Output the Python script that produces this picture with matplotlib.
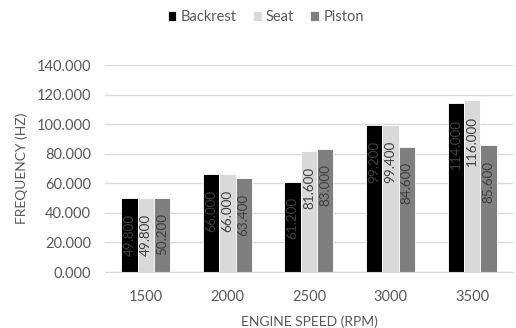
import matplotlib.pyplot as plt
import numpy as np

plt.rcParams['font.family'] = ['Lato', 'DejaVu Sans']

speeds = ["1500", "2000", "2500", "3000", "3500"]
backrest = [49.8, 66.0, 61.2, 99.2, 114.0]
seat = [49.8, 66.0, 81.6, 99.4, 116.0]
piston = [50.2, 63.4, 83.0, 84.6, 85.6]

series = [("Backrest", backrest, "#000000"),
          ("Seat", seat, "#D9D9D9"),
          ("Piston", piston, "#7F7F7F")]

text_color = "#595959"
fs = 10.5

fig = plt.figure(figsize=(5.16, 3.28), dpi=100)
ax = fig.add_axes([0.2035, 0.1707, 0.7905, 0.6311])

x = np.arange(len(speeds))
width = 0.2

for i, (name, values, color) in enumerate(series):
    pos = x + (i - 1) * width
    ax.bar(pos, values, width, color=color, edgecolor="white", linewidth=0.6,
           label=name, zorder=2)
    # value labels, rotated, inside the bar near the top
    for px, v in zip(pos, values):
        ax.annotate(f"{v:.3f}", (px, v), xytext=(0, -11), textcoords="offset points",
                    rotation=90, ha="center", va="top", fontsize=9.7,
                    color="#404040", zorder=3)

ax.set_ylim(0, 140)
ax.set_xlim(-0.5, len(speeds) - 0.5)
ax.set_yticks(np.arange(0, 141, 20))
ax.set_yticklabels([f"{t:.3f}" for t in np.arange(0, 141, 20)])
ax.set_xticks(x)
ax.set_xticklabels(speeds)

ax.grid(axis="y", color="#D9D9D9", linewidth=1, zorder=0)
for side in ["top", "right", "left"]:
    ax.spines[side].set_visible(False)
ax.spines["bottom"].set_color("#D9D9D9")
ax.tick_params(length=0, colors=text_color, labelsize=fs)
ax.tick_params(axis="x", pad=13)
ax.tick_params(axis="y", pad=10)

ax.set_xlabel("ENGINE SPEED (RPM)", color=text_color, fontsize=fs - 0.5, labelpad=8)
ax.set_ylabel("FREQUENCY (HZ)", color=text_color, fontsize=fs - 0.5, labelpad=6)

fig.legend(loc="center", bbox_to_anchor=(0.515, 0.948), ncol=3, frameon=False,
           fontsize=fs, labelcolor=text_color, handlelength=0.6, handleheight=0.6,
           handletextpad=0.3, columnspacing=1.1)

fig.savefig("out.png", dpi=100)
